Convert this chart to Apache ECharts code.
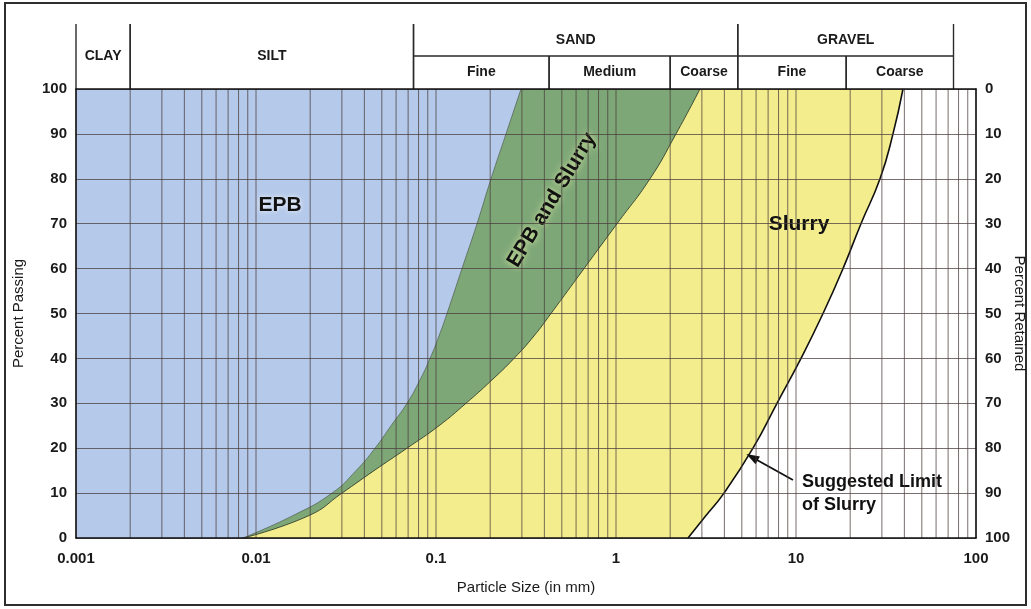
<!DOCTYPE html>
<html><head><meta charset="utf-8">
<script src="https://cdn.jsdelivr.net/npm/echarts@6/dist/echarts.min.js"></script>
<style>html,body{margin:0;padding:0;background:#fff}#c{width:1031px;height:609px}</style>
</head><body><div id="c"></div>
<script>
// ---- data ----
const xTickValues = [0.001, 0.01, 0.1, 1, 10, 100];
const xTickLabels = ['0.001', '0.01', '0.1', '1', '10', '100'];
const gridDecades = [0.001, 0.01, 0.1, 1, 10];
const gridMultipliers = [1, 2, 3, 4, 5, 6, 7, 8, 9];

const mainBands = ['CLAY', 'SILT', 'SAND', 'GRAVEL'];
const mainBounds = [0.001, 0.002, 0.075, 4.75, 75];
const subBands = ['Fine', 'Medium', 'Coarse', 'Fine', 'Coarse'];
const subBounds = [0.075, 0.425, 2, 4.75, 19, 75];

// boundary EPB | EPB and Slurry  [size mm, % passing]
const epbLimit = [[0.00847,0],[0.01606,5],[0.02644,10],[0.03594,15],[0.04583,20],[0.05623,25],[0.06901,30],
  [0.08096,35],[0.09262,40],[0.1039,45],[0.1151,50],[0.1394,60],[0.1690,70],[0.2021,80],[0.2448,90],[0.2967,100]];
// boundary EPB and Slurry | Slurry
const slurryLower = [[0.00847,0],[0.0197,5],[0.03005,10],[0.04525,15],[0.06901,20],[0.1039,25],[0.1468,30],
  [0.2021,35],[0.2713,40],[0.3503,45],[0.4354,50],[0.6641,60],[1.0129,70],[1.5445,80],[2.1544,90],[2.9286,100]];
// suggested limit of slurry
const slurryLimit = [[2.512,0],[3.162,5],[3.981,10],[5.769,20],[7.842,30],[10.66,40],[14.13,50],
  [18.24,60],[22.96,70],[29.29,80],[34.58,90],[39.30,100]];
const xMax = 100, yMax = 100;

// annotations [size, % passing]
const epbLabelAt = [0.0136, 74.2];
const bothLabelAt = [0.441, 75.3];
const slurryLabelAt = [10.39, 69.9];
const noteAt = [10.8, 9.9];
const arrowFrom = [9.62, 12.9];
const arrowTo = [5.70, 18.0];

// ---- chart ----
const chart = echarts.init(document.getElementById('c'));
const gridColor = 'rgba(75,62,60,0.75)';
const txt = '#1a1a1a';
const font = '"Liberation Sans", Arial, sans-serif';

const vLineData = [];
gridDecades.forEach(d => gridMultipliers.forEach(m => vLineData.push([+(d * m).toPrecision(3), 0])));
vLineData.push([xMax, 0]);

const headerData = mainBands.map((n, i) => ({ name: n, value: [mainBounds[i], mainBounds[i + 1], i < 2 ? 0 : 1] }))
  .concat(subBands.map((n, i) => ({ name: n, value: [subBounds[i], subBounds[i + 1], 2] })));

function tickLabel(v) {
  const i = xTickValues.findIndex(t => Math.abs(Math.log10(t) - Math.log10(v)) < 1e-6);
  return i >= 0 ? xTickLabels[i] : '';
}

const H = 65, M = 33;
function renderHeader(params, api) {
  const a = api.coord([api.value(0), 100]);
  const b = api.coord([api.value(1), 100]);
  const top = a[1];
  const row = api.value(2);
  let y0, y1;
  if (row === 0) { y0 = top - H; y1 = top; }
  else if (row === 1) { y0 = top - H; y1 = top - M; }
  else { y0 = top - M; y1 = top; }
  const ls = { stroke: '#2a2a2a', lineWidth: 1.4 };
  const children = [
    { type: 'line', shape: { x1: a[0], y1: y0, x2: a[0], y2: y1 }, style: ls },
    { type: 'line', shape: { x1: b[0], y1: y0, x2: b[0], y2: y1 }, style: ls },
    { type: 'text', x: (a[0] + b[0]) / 2, y: (y0 + y1) / 2,
      style: { text: headerData[params.dataIndex].name, align: 'center', verticalAlign: 'middle',
        fill: txt, font: 'bold 14px ' + font } }
  ];
  if (row === 1) children.push({ type: 'line', shape: { x1: a[0], y1: y1, x2: b[0], y2: y1 }, style: ls });
  return { type: 'group', children };
}

function renderVLine(params, api) {
  const p0 = api.coord([api.value(0), 0]);
  const p1 = api.coord([api.value(0), 100]);
  return { type: 'line', shape: { x1: p0[0], y1: p0[1], x2: p1[0], y2: p1[1] },
    style: { stroke: gridColor, lineWidth: 1 } };
}

// each region: a smooth boundary curve filled down to 0, plus a block right of its top end
function region(name, curve, color, lineColor, lineWidth, z) {
  const top = curve[curve.length - 1];
  return [{
    name, type: 'line', data: curve, symbol: 'none', smooth: 0.5, z,
    lineStyle: { color: lineColor, width: lineWidth },
    areaStyle: { color, opacity: 1 }
  }, {
    name: name + ' (upper)', type: 'line', data: [[top[0], yMax], [xMax, yMax]], symbol: 'none', z: z - 0.5,
    lineStyle: { width: 0, opacity: 0 },
    areaStyle: { color, opacity: 1 }
  }];
}

const bigLabel = { fontFamily: font, fontWeight: 'bold', fontSize: 21, color: '#111' };

const option = {
  animation: false,
  backgroundColor: '#fff',
  grid: { left: 76, right: 55, top: 89, bottom: 71, show: true, backgroundColor: '#b5c9ea', borderWidth: 0,
    outerBoundsMode: 'none', containLabel: false },
  xAxis: [{
    type: 'log', logBase: 10, min: 0.001, max: xMax, z: 10,
    name: 'Particle Size (in mm)', nameLocation: 'middle', nameGap: 42, nameMoveOverlap: false,
    nameTextStyle: { fontFamily: font, fontSize: 15, color: txt },
    axisLine: { show: true, lineStyle: { color: '#111', width: 1.5 } },
    axisTick: { show: false },
    axisLabel: { formatter: tickLabel, margin: 13, fontFamily: font, fontWeight: 'bold', fontSize: 15, color: txt },
    splitLine: { show: false }, minorSplitLine: { show: false }
  }, {
    type: 'log', logBase: 10, min: 0.001, max: xMax, position: 'top', z: 10,
    axisLine: { show: true, lineStyle: { color: '#111', width: 1.5 } },
    axisTick: { show: false }, axisLabel: { show: false }, splitLine: { show: false }
  }],
  yAxis: [{
    type: 'value', min: 0, max: yMax, interval: 10, z: 10,
    name: 'Percent Passing', nameLocation: 'middle', nameGap: 50, nameRotate: 90, nameMoveOverlap: false,
    nameTextStyle: { fontFamily: font, fontSize: 15, color: txt },
    axisLine: { show: true, lineStyle: { color: '#111', width: 1.5 } },
    axisTick: { show: false },
    axisLabel: { margin: 9, fontFamily: font, fontWeight: 'bold', fontSize: 15, color: txt },
    splitLine: { show: true, lineStyle: { color: gridColor, width: 1 } }
  }, {
    type: 'value', min: 0, max: yMax, interval: 10, inverse: true, position: 'right', z: 10,
    name: 'Percent Retained', nameLocation: 'middle', nameGap: 36, nameRotate: -90, nameMoveOverlap: false,
    nameTextStyle: { fontFamily: font, fontSize: 15, color: txt },
    axisLine: { show: true, lineStyle: { color: '#111', width: 1.5 } },
    axisTick: { show: false },
    axisLabel: { margin: 9, fontFamily: font, fontWeight: 'bold', fontSize: 15, color: txt },
    splitLine: { show: false }
  }],
  graphic: [{
    type: 'rect', shape: { x: 5, y: 3, width: 1021, height: 602 },
    style: { fill: 'none', stroke: '#2e2e2e', lineWidth: 2 }, silent: true
  }],
  series: [].concat(
    region('EPB and Slurry', epbLimit, '#7ea778', 'rgba(70,80,70,0.6)', 1, 2),
    region('Slurry', slurryLower, '#f4ed8e', 'rgba(40,55,40,0.85)', 1, 3),
    region('Suggested Limit of Slurry', slurryLimit, '#ffffff', '#111', 1.6, 4),
    [{
      name: 'vgrid', type: 'custom', coordinateSystem: 'cartesian2d', z: 8, silent: true,
      renderItem: renderVLine, data: vLineData, encode: { x: 0, y: 1 }
    },
    {
      name: 'arrow', type: 'line', data: [], z: 12, silent: true,
      markLine: {
        silent: true, symbol: ['none', 'triangle'], symbolSize: [9, 13], animation: false,
        label: { show: false },
        lineStyle: { color: '#111', width: 1.8, type: 'solid' },
        data: [[{ coord: arrowFrom }, { coord: arrowTo }]]
      }
    },
    {
      name: 'labels', type: 'line', data: [], z: 14, silent: true,
      markPoint: {
        symbol: 'circle', symbolSize: 1, itemStyle: { color: 'rgba(0,0,0,0)' }, animation: false,
        data: [
          { coord: epbLabelAt, label: Object.assign({ show: true, position: 'inside', formatter: 'EPB',
              textShadowColor: 'rgba(255,255,255,0.9)', textShadowBlur: 5 }, bigLabel) },
          { coord: bothLabelAt, label: Object.assign({ show: true, position: 'inside', formatter: 'EPB and Slurry', rotate: 59,
              textShadowColor: 'rgba(235,245,170,0.95)', textShadowBlur: 6 }, bigLabel) },
          { coord: slurryLabelAt, label: Object.assign({ show: true, position: 'inside', formatter: 'Slurry' }, bigLabel) },
          { coord: noteAt, label: { show: true, position: 'inside', align: 'left', verticalAlign: 'middle',
              formatter: 'Suggested Limit\nof Slurry', lineHeight: 23,
              fontFamily: font, fontWeight: 'bold', fontSize: 18, color: '#111' } }
        ]
      }
    },
    {
      name: 'header', type: 'custom', coordinateSystem: 'cartesian2d', clip: false, z: 6, silent: true,
      renderItem: renderHeader, data: headerData, encode: { x: [0, 1], y: 2 }
    }]
  )
};
chart.setOption(option);
</script>
</body></html>
